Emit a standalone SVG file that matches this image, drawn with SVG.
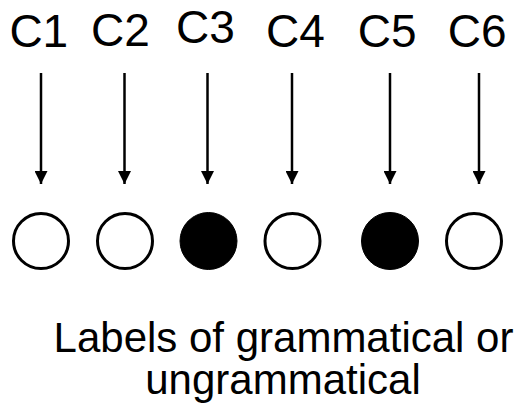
<svg xmlns="http://www.w3.org/2000/svg" width="517" height="411" viewBox="0 0 517 411">
<style>
.lbl{font-family:"Liberation Sans",Arial,sans-serif;font-size:46px;fill:#000}
.cap{font-family:"Liberation Sans",Arial,sans-serif;font-size:42px;fill:#000}
.open{fill:#fff;stroke:#000;stroke-width:3}
.full{fill:#000;stroke:#000;stroke-width:1}
.edge{stroke:#000;stroke-width:2.5;fill:none;marker-end:url(#ah)}
</style>
<defs>
<marker id="ah" markerUnits="userSpaceOnUse" markerWidth="13" markerHeight="13" refX="13" refY="6.5" orient="auto" viewBox="0 0 13 13">
<path d="M0,0 L13,6.5 L0,13 Z" fill="#000"/>
</marker>
</defs>
<rect width="517" height="411" fill="#fff"/>
<g id="labels">
<text class="lbl" x="9.4" y="46.7">C1</text>
<text class="lbl" x="91" y="46.3">C2</text>
<text class="lbl" x="176" y="42.8">C3</text>
<text class="lbl" x="266" y="46.7">C4</text>
<text class="lbl" x="357.7" y="46.7">C5</text>
<text class="lbl" x="447.7" y="46.7">C6</text>
</g>
<g id="connectors">
<line class="edge" x1="41" y1="73" x2="41" y2="184"/>
<line class="edge" x1="124.5" y1="73" x2="124.5" y2="184"/>
<line class="edge" x1="207.5" y1="73" x2="207.5" y2="184"/>
<line class="edge" x1="292" y1="73" x2="292" y2="184"/>
<line class="edge" x1="390" y1="73" x2="390" y2="184"/>
<line class="edge" x1="479" y1="73" x2="479" y2="184"/>
</g>
<g id="n1"><circle class="open" cx="41" cy="241" r="27.5"/></g>
<g id="n2"><circle class="open" cx="125" cy="241" r="27.5"/></g>
<g id="n3"><circle class="full" cx="208.5" cy="241" r="28.5"/></g>
<g id="n4"><circle class="open" cx="292.5" cy="241" r="27.5"/></g>
<g id="n5"><circle class="full" cx="390" cy="241" r="28.5"/></g>
<g id="n6"><circle class="open" cx="474" cy="241" r="27.5"/></g>
<g id="caption">
<text class="cap" x="283.5" y="351.7" text-anchor="middle">Labels of grammatical or</text>
<text class="cap" x="283" y="393.5" text-anchor="middle">ungrammatical</text>
</g>
</svg>
